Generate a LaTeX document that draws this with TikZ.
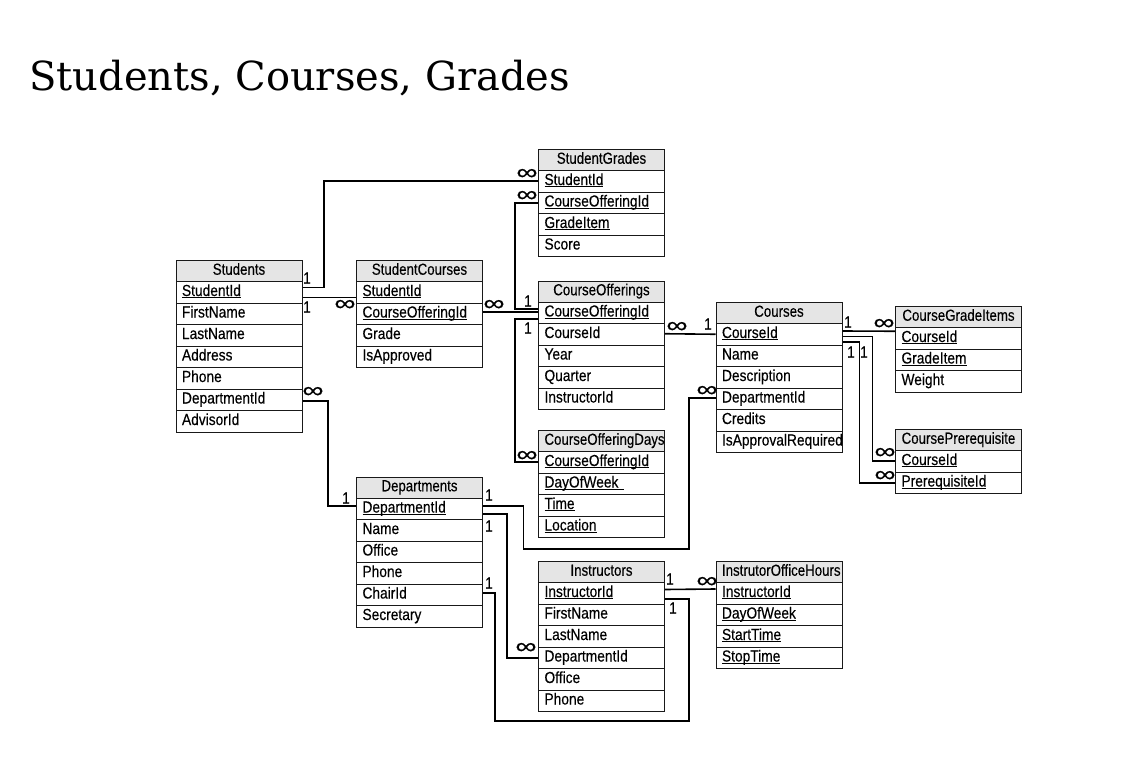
\documentclass[tikz,border=0pt]{standalone}
\usepackage{fontspec}
\newfontfamily\dbfont{Liberation Sans}[FakeStretch=0.86,FakeBold=0.3]
\newfontfamily\dbhfont{Liberation Sans}[FakeStretch=0.83,FakeBold=0.3]
\newfontfamily\symfont{Liberation Sans}[FakeBold=0.4,FakeStretch=1.35]
\newfontfamily\titlefont{DejaVu Serif}
\newcommand\ukey[1]{\setbox0=\hbox{#1}\rlap{\rule[-2.3pt]{\wd0}{0.9pt}}\box0}
\newcommand\dbtable[5]{%
  \node[hdr, anchor=north west] (#1) at (#2,#3) {#4};
  \foreach \ftxt [count=\fidx] in {#5} {
    \node[fld, anchor=north west] (#1-\fidx) at (#2,{#3+21+21.5*(\fidx-1)}) {\ftxt};
  }%
}
\tikzset{
  fld/.style={draw=black!90, line width=1pt, minimum width=126pt, minimum height=21.5pt,
    text width=114pt, inner xsep=6pt, inner ysep=0pt, align=left,
    text height=11.5pt, text depth=4pt, font=\dbfont\fontsize{16}{16}\selectfont},
  hdr/.style={fld, fill=black!10, align=center, minimum height=21pt,
    font=\dbhfont\fontsize{16}{16}\selectfont},
  conn/.style={draw=black, line width=1.6pt},
  lbl/.style={inner sep=0pt, font=\dbfont\fontsize{16}{16}\selectfont},
  inf/.style={inner sep=0pt, text height=13pt, text depth=0pt, font=\symfont\fontsize{22}{22}\selectfont},
}
\begin{document}
\begin{tikzpicture}[x=1pt,y=-1pt]
\useasboundingbox (0,0) rectangle (1125,760);
\node[font=\titlefont\fontsize{40}{40}\selectfont, anchor=base west, inner sep=0pt] (title) at (29,90) {Students, Courses, Grades};

\dbtable{Students}{175.5}{260}{Students}{\ukey{StudentId},FirstName,LastName,Address,Phone,DepartmentId,AdvisorId}
\dbtable{StudentCourses}{356}{260}{StudentCourses}{\ukey{StudentId},\ukey{CourseOfferingId},Grade,IsApproved}
\dbtable{StudentGrades}{538}{149}{StudentGrades}{\ukey{StudentId},\ukey{CourseOfferingId},\ukey{GradeItem},Score}
\dbtable{CourseOfferings}{538}{280.5}{CourseOfferings}{\ukey{CourseOfferingId},CourseId,Year,Quarter,InstructorId}
\dbtable{CourseOfferingDays}{538}{430}{CourseOfferingDays}{\ukey{CourseOfferingId},\ukey{DayOfWeek\ },\ukey{Time},\ukey{Location}}
\dbtable{Courses}{715.5}{302}{Courses}{\ukey{CourseId},Name,Description,DepartmentId,Credits,IsApprovalRequired}
\dbtable{CourseGradeItems}{895}{306}{CourseGradeItems}{\ukey{CourseId},\ukey{GradeItem},Weight}
\dbtable{CoursePrerequisite}{895}{429}{CoursePrerequisite}{\ukey{CourseId},\ukey{PrerequisiteId}}
\dbtable{Departments}{356}{476.5}{Departments}{\ukey{DepartmentId},Name,Office,Phone,ChairId,Secretary}
\dbtable{Instructors}{538}{561}{Instructors}{\ukey{InstructorId},FirstName,LastName,DepartmentId,Office,Phone}
\dbtable{IOH}{715.5}{561}{InstrutorOfficeHours}{\ukey{InstructorId},\ukey{DayOfWeek},\ukey{StartTime},\ukey{StopTime}}

% connectors
\draw[conn] ([yshift=4.75pt]Students-1.east) -- ++(21.5,0) |- (StudentGrades-1.west);
\draw[conn] ([yshift=-5.25pt]Students-1.east) -- ([yshift=-5.25pt]StudentCourses-1.west);
\draw[conn] ([yshift=1.5pt]StudentCourses-2.east) -- ([yshift=0.5pt]CourseOfferings-1.west);
\draw[conn] ([yshift=4pt]CourseOfferings-1.west) -- ++(-23,0) |- (StudentGrades-2.west);
\draw[conn] ([yshift=-6pt]CourseOfferings-1.west) -- ++(-23,0) |- (CourseOfferingDays-1.west);
\draw[conn] ([yshift=0.5pt]CourseOfferings-2.east) -- (Courses-1.west);
\draw[conn] ([yshift=2.5pt]Departments-1.east) -- ++(40.5,0) |- (689,549) |- ([yshift=1pt]Courses-4.west);
\draw[conn] ([yshift=-1.5pt]Students-6.east) -- ++(25.5,0) |- ([yshift=2.5pt]Departments-1.west);
\draw[conn] ([yshift=-5pt]Departments-1.east) -- ++(24,0) |- (Instructors-4.west);
\draw[conn] ([yshift=1.5pt]Departments-5.east) -- ++(12,0) |- (689,721) |- ([yshift=-5.5pt]Instructors-1.east);
\draw[conn] ([yshift=3.75pt]Instructors-1.east) -- ([yshift=4.25pt]IOH-1.west);
\draw[conn] ([yshift=3.25pt]Courses-1.east) -- ([yshift=7pt]CourseGradeItems-1.west);
\draw[conn] ([yshift=-2.25pt]Courses-1.east) -- ++(30,0) |- (CoursePrerequisite-1.west);
\draw[conn] ([yshift=-7.5pt]Courses-1.east) -- ++(17,0) |- (CoursePrerequisite-2.west);

% cardinality labels
\node[lbl] (l1) at (307,278) {1};
\node[inf] (l2) at (527,173) {∞};
\node[lbl] (l3) at (307,307) {1};
\node[inf] (l4) at (345,304) {∞};
\node[inf] (l5) at (494,304) {∞};
\node[lbl] (l6) at (528,301) {1};
\node[inf] (l7) at (527,195) {∞};
\node[lbl] (l8) at (528,328) {1};
\node[inf] (l9) at (527,455) {∞};
\node[inf] (l10) at (677,326) {∞};
\node[lbl] (l11) at (708,324) {1};
\node[lbl] (l12) at (489,495) {1};
\node[inf] (l13) at (707,390) {∞};
\node[inf] (l14) at (313,391) {∞};
\node[lbl] (l15) at (346,498) {1};
\node[lbl] (l16) at (489,526) {1};
\node[inf] (l17) at (526,647) {∞};
\node[lbl] (l18) at (489,583) {1};
\node[lbl] (l19) at (673,608) {1};
\node[lbl] (l20) at (670,579) {1};
\node[inf] (l21) at (707,581) {∞};
\node[lbl] (l22) at (848,322) {1};
\node[inf] (l23) at (884,323) {∞};
\node[lbl] (l24) at (851,352) {1};
\node[lbl] (l25) at (864,352) {1};
\node[inf] (l26) at (885,452) {∞};
\node[inf] (l27) at (885,475) {∞};
\end{tikzpicture}
\end{document}
